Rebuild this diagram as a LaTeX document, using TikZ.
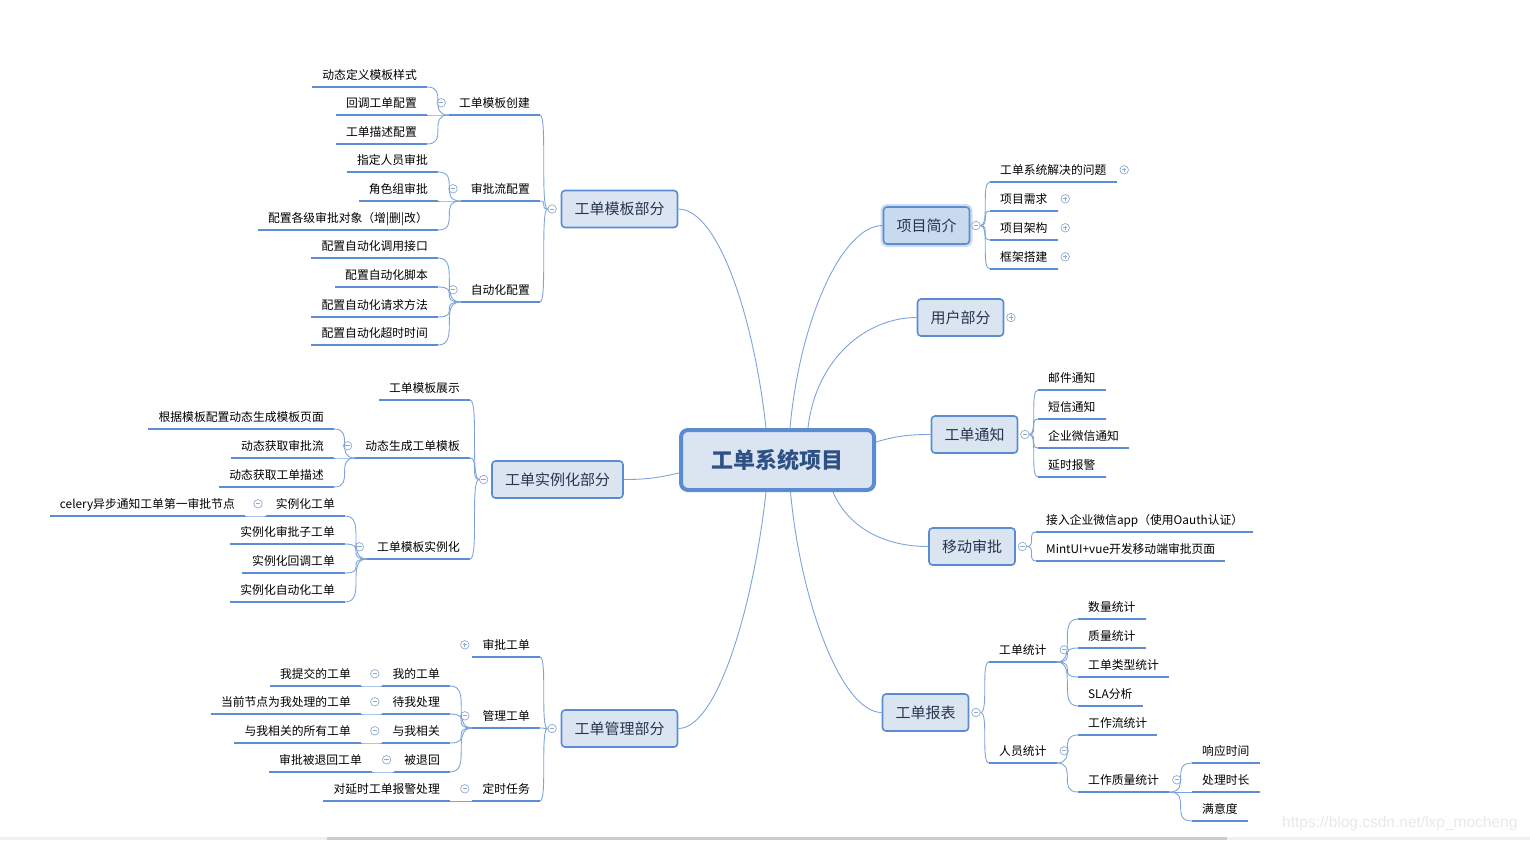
\documentclass[tikz,border=0pt]{standalone}
\usepackage{fontspec}
\setmainfont{Noto Sans CJK SC}
\newfontfamily\wmfont{Liberation Sans}
\usetikzlibrary{positioning}
\definecolor{ulinecol}{HTML}{5B8ED7}
\definecolor{conncol}{HTML}{7CA3DA}
\definecolor{boxdraw}{HTML}{5B8CD2}
\definecolor{boxfill}{HTML}{DBE5F2}
\definecolor{selfill}{HTML}{C8DAEE}
\definecolor{halo}{HTML}{CFDDEE}
\definecolor{boxtext}{HTML}{26364E}
\definecolor{roottext}{HTML}{2E5085}
\definecolor{foldcol}{HTML}{8FAAD0}
\tikzset{leaf/.style={font=\fontsize{11.8}{14}\selectfont,inner xsep=10pt,inner ysep=4.5pt,
            text height=12pt,text depth=3pt,
            append after command={(\tikzlastnode.south west) edge[draw=ulinecol,line width=2.8pt] (\tikzlastnode.south east)}},
         lleaf/.style={leaf,anchor=south east},
         rleaf/.style={leaf,anchor=south west},
         box/.style={draw=boxdraw,fill=boxfill,line width=1.6pt,rounded corners=3.5pt,
            minimum height=37pt,inner xsep=13pt,text=boxtext,font=\fontsize{15}{18}\selectfont},
         selbox/.style={box,fill=selfill,preaction={draw=halo,line width=6pt}},
         rootbox/.style={draw=boxdraw,fill=boxfill,line width=4pt,rounded corners=7pt,
            minimum width=193pt,minimum height=60pt,text=roottext,font=\fontsize{22}{26}\selectfont\bfseries},
         fold/.style={circle,draw=foldcol,fill=white,line width=0.7pt,minimum size=8.5pt,inner sep=0pt,
            path picture={\draw[foldcol,line width=0.8pt] ([xshift=-2.2pt]path picture bounding box.center) -- ([xshift=2.2pt]path picture bounding box.center);}},
         foldp/.style={fold,path picture={\draw[foldcol,line width=0.8pt] ([xshift=-2.2pt]path picture bounding box.center) -- ([xshift=2.2pt]path picture bounding box.center)
            ([yshift=-2.2pt]path picture bounding box.center) -- ([yshift=2.2pt]path picture bounding box.center);}},
         conn/.style={draw=conncol,line width=0.9pt},
         brace/.style={to path={.. controls (\tikztotarget |- \tikztostart) and (\tikztostart |- \tikztotarget) .. (\tikztotarget)}}
         }
\begin{document}
\begin{tikzpicture}[x=1pt,y=-1pt]
        \useasboundingbox (0,0) rectangle (1530,840);
        \node[rootbox] (root) at (777.5,460) {工单系统项目};
        % left side
        \node[box] (tpl) at (619.5,209) {工单模板部分};
        \node[fold] (ftpl) [left=4pt of tpl] {};
        \node[lleaf] (t1) at (540,115) {工单模板创建};
        \node[fold] (ft1) [left=3pt of t1] {};
        \node[lleaf] (t11) at (427,87) {动态定义模板样式};
        \node[lleaf] (t12) at (427,115) {回调工单配置};
        \node[lleaf] (t13) at (427,144) {工单描述配置};
        \node[lleaf] (t2) at (540,201) {审批流配置};
        \node[fold] (ft2) [left=3pt of t2] {};
        \node[lleaf] (t21) at (438,172) {指定人员审批};
        \node[lleaf] (t22) at (438,201) {角色组审批};
        \node[lleaf] (t23) at (438,230) {配置各级审批对象（增|删|改）};
        \node[lleaf] (t3) at (540,302) {自动化配置};
        \node[fold] (ft3) [left=3pt of t3] {};
        \node[lleaf] (t31) at (438,258) {配置自动化调用接口};
        \node[lleaf] (t32) at (438,287) {配置自动化脚本};
        \node[lleaf] (t33) at (438,317) {配置自动化请求方法};
        \node[lleaf] (t34) at (438,345) {配置自动化超时时间};

        \node[box] (inst) at (557.5,479.5) {工单实例化部分};
        \node[fold] (finst) [left=3pt of inst] {};
        \node[lleaf] (i1) at (470,400) {工单模板展示};
        \node[lleaf] (i2) at (470,458) {动态生成工单模板};
        \node[fold] (fi2) [left=3pt of i2] {};
        \node[lleaf] (i21) at (334,429) {根据模板配置动态生成模板页面};
        \node[lleaf] (i22) at (334,458) {动态获取审批流};
        \node[lleaf] (i23) at (334,487) {动态获取工单描述};
        \node[lleaf] (i3) at (470,559) {工单模板实例化};
        \node[fold] (fi3) [left=3pt of i3] {};
        \node[lleaf] (i31) at (345,516) {实例化工单};
        \node[fold] (fi31) [left=3pt of i31] {};
        \node[lleaf] (i311) at (245,516) {celery异步通知工单第一审批节点};
        \node[lleaf] (i32) at (345,544) {实例化审批子工单};
        \node[lleaf] (i33) at (345,573) {实例化回调工单};
        \node[lleaf] (i34) at (345,602) {实例化自动化工单};

        \node[box] (mgr) at (619.5,728.5) {工单管理部分};
        \node[fold] (fmgr) [left=4pt of mgr] {};
        \node[lleaf] (m1) at (540,657) {审批工单};
        \node[foldp] (fm1) [left=3pt of m1] {};
        \node[lleaf] (m2) at (540,728) {管理工单};
        \node[fold] (fm2) [left=3pt of m2] {};
        \node[lleaf] (m21) at (450,686) {我的工单};
        \node[fold] (fm21) [left=3pt of m21] {};
        \node[lleaf] (m211) at (361,686) {我提交的工单};
        \node[lleaf] (m22) at (450,714) {待我处理};
        \node[fold] (fm22) [left=3pt of m22] {};
        \node[lleaf] (m221) at (361,714) {当前节点为我处理的工单};
        \node[lleaf] (m23) at (450,743) {与我相关};
        \node[fold] (fm23) [left=3pt of m23] {};
        \node[lleaf] (m231) at (361,743) {与我相关的所有工单};
        \node[lleaf] (m24) at (450,772) {被退回};
        \node[fold] (fm24) [left=3pt of m24] {};
        \node[lleaf] (m241) at (372,772) {审批被退回工单};
        \node[lleaf] (m3) at (540,801) {定时任务};
        \node[fold] (fm3) [left=3pt of m3] {};
        \node[lleaf] (m31) at (450,801) {对延时工单报警处理};

        % right side
        \node[selbox] (intro) at (926.5,225.5) {项目简介};
        \node[fold] (fintro) [right=1pt of intro] {};
        \node[rleaf] (r1) at (990,182) {工单系统解决的问题};
        \node[foldp] (fr1) [right=3pt of r1] {};
        \node[rleaf] (r2) at (990,211) {项目需求};
        \node[foldp] (fr2) [right=3pt of r2] {};
        \node[rleaf] (r3) at (990,240) {项目架构};
        \node[foldp] (fr3) [right=3pt of r3] {};
        \node[rleaf] (r4) at (990,269) {框架搭建};
        \node[foldp] (fr4) [right=3pt of r4] {};

        \node[box] (user) at (960.5,317.5) {用户部分};
        \node[foldp] (fuser) [right=2pt of user] {};

        \node[box] (notice) at (974.5,434.5) {工单通知};
        \node[fold] (fnotice) [right=2pt of notice] {};
        \node[rleaf] (n1) at (1038,390) {邮件通知};
        \node[rleaf] (n2) at (1038,419) {短信通知};
        \node[rleaf] (n3) at (1038,448) {企业微信通知};
        \node[rleaf] (n4) at (1038,477) {延时报警};

        \node[box] (mobile) at (972,546.5) {移动审批};
        \node[fold] (fmobile) [right=2pt of mobile] {};
        \node[rleaf] (b1) at (1036,532) {接入企业微信app（使用Oauth认证）};
        \node[rleaf] (b2) at (1036,561) {MintUI+vue开发移动端审批页面};

        \node[box] (report) at (925.5,712.5) {工单报表};
        \node[fold] (freport) [right=2pt of report] {};
        \node[rleaf] (p1) at (989,662) {工单统计};
        \node[fold] (fp1) [right=3pt of p1] {};
        \node[rleaf] (p11) at (1078,619) {数量统计};
        \node[rleaf] (p12) at (1078,648) {质量统计};
        \node[rleaf] (p13) at (1078,677) {工单类型统计};
        \node[rleaf] (p14) at (1078,706) {SLA分析};
        \node[rleaf] (p2) at (989,763) {人员统计};
        \node[fold] (fp2) [right=3pt of p2] {};
        \node[rleaf] (p21) at (1078,735) {工作流统计};
        \node[rleaf] (p22) at (1078,792) {工作质量统计};
        \node[fold] (fp22) [right=3pt of p22] {};
        \node[rleaf] (p221) at (1192,763) {响应时间};
        \node[rleaf] (p222) at (1192,792) {处理时长};
        \node[rleaf] (p223) at (1192,821) {满意度};

        % root branches
        \draw[conn] ([xshift=-11.5pt]root.north) .. controls +(-12,-110) and +(40,0) .. (tpl.east);
        \draw[conn] ([yshift=-13pt]root.west) .. controls +(-22,5) and +(22,0) .. (inst.east);
        \draw[conn] ([xshift=-11.5pt]root.south) .. controls +(-12,110) and +(40,0) .. (mgr.east);
        \draw[conn] ([xshift=12.5pt]root.north) .. controls +(10,-110) and +(-40,0) .. (intro.west);
        \draw[conn] ([xshift=30.5pt]root.north) .. controls +(8,-70) and +(-50,0) .. (user.west);
        \draw[conn] ([yshift=18pt]root.east) .. controls +(20,-6) and +(-22,0) .. (notice.west);
        \draw[conn] ([xshift=55.5pt]root.south) .. controls +(15,35) and +(-45,0) .. (mobile.west);
        \draw[conn] ([xshift=13pt]root.south) .. controls +(10,110) and +(-40,0) .. (report.west);

        % sub branches
        \foreach \c in {t1,t2,t3} \draw[conn] (ftpl.west) to[brace] (\c.south east);
        \foreach \c in {t11,t12,t13} \draw[conn] (t1.south west) to[brace] (\c.south east);
        \foreach \c in {t21,t22,t23} \draw[conn] (t2.south west) to[brace] (\c.south east);
        \foreach \c in {t31,t32,t33,t34} \draw[conn] (t3.south west) to[brace] (\c.south east);
        \foreach \c in {i1,i2,i3} \draw[conn] (finst.west) to[brace] (\c.south east);
        \foreach \c in {i21,i22,i23} \draw[conn] (i2.south west) to[brace] (\c.south east);
        \foreach \c in {i31,i32,i33,i34} \draw[conn] (i3.south west) to[brace] (\c.south east);
        \draw[conn] (i31.south west) to[brace] (i311.south east);
        \foreach \c in {m1,m2,m3} \draw[conn] (fmgr.west) to[brace] (\c.south east);
        \foreach \c in {m21,m22,m23,m24} \draw[conn] (m2.south west) to[brace] (\c.south east);
        \foreach \p/\c in {m21/m211,m22/m221,m23/m231,m24/m241,m3/m31}
            \draw[conn] (\p.south west) to[brace] (\c.south east);
        \foreach \c in {r1,r2,r3,r4} \draw[conn] (fintro.east) to[brace] (\c.south west);
        \foreach \c in {n1,n2,n3,n4} \draw[conn] (fnotice.east) to[brace] (\c.south west);
        \foreach \c in {b1,b2} \draw[conn] (fmobile.east) to[brace] (\c.south west);
        \foreach \c in {p1,p2} \draw[conn] (freport.east) to[brace] (\c.south west);
        \foreach \c in {p11,p12,p13,p14} \draw[conn] (p1.south east) to[brace] (\c.south west);
        \foreach \c in {p21,p22} \draw[conn] (p2.south east) to[brace] (\c.south west);
        \foreach \c in {p221,p222,p223} \draw[conn] (p22.south east) to[brace] (\c.south west);

        % watermark and scroll bar
        \node[font=\wmfont\fontsize{15.5}{18}\selectfont,text=black!9,anchor=west,inner sep=0pt] (wm) at (1282,823) {https://blog.csdn.net/lxp\_mocheng};
        \fill[black!6] (0,837) rectangle (1530,840);
        \fill[black!20] (327,837) rectangle (1227,840);
\end{tikzpicture}
\end{document}
